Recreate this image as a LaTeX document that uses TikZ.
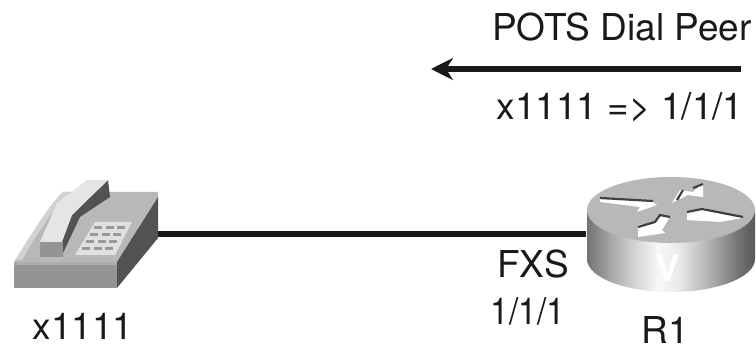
\documentclass[tikz,border=0pt]{standalone}
\usepackage{fontspec}
\setmainfont{TeX Gyre Heros}
\usetikzlibrary{arrows.meta}
\definecolor{ink}{gray}{0.10}
\pgfdeclarehorizontalshading{routerside}{100bp}{
  color(0bp)=(black!55); color(25bp)=(black!55); color(32bp)=(black!35);
  color(40bp)=(black!15); color(46bp)=(black!3); color(52bp)=(black!8);
  color(62bp)=(black!32); color(70bp)=(black!55); color(75bp)=(black!65); color(100bp)=(black!65)}
\tikzset{
  x=1pt,y=-1pt,
  lbl/.style={anchor=base,inner sep=0pt,text=ink,font=\fontsize{37}{37}\selectfont},
  wire/.style={draw=ink,line width=6pt},
  fin/.style={draw=black!75,line width=2.2pt},
  hollow/.style={inner sep=0pt}
}
\begin{document}
\begin{tikzpicture}
\useasboundingbox (0,0) rectangle (756,347);
% ---- phone
\fill[black!28] (14,262) .. controls (30,238) and (45,210) .. (63,192) -- (158,192) -- (158,197) -- (117,262) -- cycle;
\fill[black!18] (15,260) .. controls (30,238) and (45,210) .. (63,192) -- (70,192) .. controls (50,212) and (35,238) .. (22,260) -- cycle;
\fill[black!42] (14,262) rectangle (117,288);
\fill[black!32] (14,262) rectangle (117,265);
\fill[black!68] (117,262) -- (158,197) -- (158,238) -- (117,288) -- cycle;
% handset
\fill[black!68] (108,180) -- (110,197) -- (80,217) -- (63,253) -- (62,240) -- (72,215) -- cycle;
\fill[black!10] (40,242) -- (62,242) -- (72,215) -- (108,180) -- (87,180) -- (57,203) -- cycle;
\fill[black!42] (40,242) rectangle (63,257);
% keypad
\fill[black!12] (75,255) -- (95,222) -- (132,222) -- (115,255) -- cycle;
\foreach \r/\a/\b in {0/93/128,1/89/124,2/85/120,3/81/116}{
  \foreach \c in {0,1,2}{
    \fill[black!40] ({\a+\c*(\b-\a)/3+1},{226+\r*7}) rectangle ++(8,3);
  }
}
\node[hollow,minimum width=144pt,minimum height=108pt] (phone) at (86,234) {};
% ---- router
\begin{scope}
\clip (587,210) -- (587,259) arc[start angle=180,end angle=0,x radius=84,y radius=33] -- (755,210) -- cycle;
\shade[shading=routerside] (587,170) rectangle (755,295);
\end{scope}
\fill[black!28] (671,210) ellipse[x radius=84,y radius=33];
% router arrows
\fill[white] (600,198) -- (650,200) -- (657,205) -- (637,212) -- (640,207) -- (600,202) -- cycle;
\draw[fin] (600,198) -- (653,201);
\fill[white] (672,203) -- (680,190) -- (693,192) -- (703,183) -- (703,197) -- (688,195) -- cycle;
\draw[fin] (677,200) -- (683,190);
\draw[fin] (693,188) -- (703,184);
\fill[white] (687,212) -- (703,208) -- (743,218) -- (720,222) -- (687,220) -- cycle;
\draw[fin] (687,212) -- (702,209) -- (743,217);
\fill[white] (638,237) -- (638,225) -- (652,223) -- (662,215) -- (670,217) -- (662,230) -- (665,233) -- cycle;
\draw[fin] (638,227) -- (655,222) -- (660,215) -- (670,217);
\node[hollow,minimum width=170pt,minimum height=116pt] (router) at (671,234) {};
\node[hollow,white,font=\fontsize{37}{37}\selectfont\bfseries] (v) at (668,268) {V};
% ---- wire
\draw[wire] (phone.east) -- (router.west);
% ---- arrow
\coordinate (dpA) at (741,69);
\coordinate (dpB) at (431,69);
\draw[wire,-{Stealth[length=22pt,width=22pt,inset=7pt]}] (dpA) -- (dpB);
% ---- labels
\node[lbl] (dp) at (622,41) {POTS Dial Peer};
\node[lbl] (map) at (620,120) {x1111 => 1/1/1};
\node[lbl] (fxs) at (533,278) {FXS};
\node[lbl,xscale=.9] (port) at (528,325) {1/1/1};
\node[lbl] (r1) at (665,344) {R1};
\node[lbl] (x) at (83,340) {x1111};
\end{tikzpicture}
\end{document}
